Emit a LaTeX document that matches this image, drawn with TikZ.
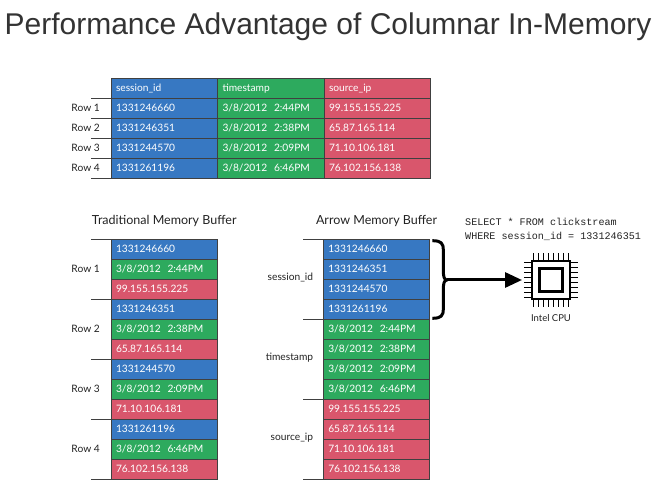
\documentclass[tikz,border=0pt]{standalone}
\usepackage{fontspec}
\setmainfont{Lato}
\newfontfamily\titlefont{Liberation Sans}
\newfontfamily\codefont{Liberation Mono}
\usetikzlibrary{positioning,calc,arrows.meta}
\definecolor{colblue}{HTML}{3778C2}
\definecolor{colgreen}{HTML}{2DAA5E}
\definecolor{colred}{HTML}{D9566C}
\definecolor{inkgray}{HTML}{222222}

\begin{document}
\begin{tikzpicture}[x=1pt,y=-1pt]
	\tikzset{cell/.style={draw=black!75,line width=0.8pt,text=white,anchor=north west,outer sep=0pt,minimum height=20pt,text width=96.5pt,inner xsep=5pt,inner ysep=0pt,align=left,text height=7.2pt,text depth=0pt,font=\fontsize{10.2}{12}\selectfont}}
	\tikzset{sid/.style={cell,fill=colblue},tstamp/.style={cell,fill=colgreen},sip/.style={cell,fill=colred}}
	\tikzset{lbl/.style={text=inkgray,inner sep=0pt,font=\fontsize{10.2}{12}\selectfont}}
	\tikzset{hdr/.style={lbl,font=\fontsize{12.5}{14}\selectfont}}
	\tikzset{rowtick/.style={draw=black!75,line width=0.8pt}}
	\tikzset{cpupin/.style={line width=1.6pt}}
	\useasboundingbox (0,0) rectangle (656,494);
	\node[anchor=base west,inner sep=0pt,text=black!80,font=\titlefont\fontsize{30}{36}\selectfont] (title) at (4.4,35) {Performance Advantage of Columnar In-Memory};
	% row table
	\node[sid] (hs) at (111,78) {session\_id};
	\node[tstamp] (ht) at (217.5,78) {timestamp};
	\node[sip] (hp) at (324,78) {source\_ip};
	\foreach \s/\t/\p [count=\i] in {1331246660/2:44PM/99.155.155.225,1331246351/2:38PM/65.87.165.114,1331244570/2:09PM/71.10.106.181,1331261196/6:46PM/76.102.156.138}{
		\node[sid] (s\i) at (111,78+20*\i) {\s};
		\node[tstamp] (t\i) at (217.5,78+20*\i) {3/8/2012~~\t};
		\node[sip] (p\i) at (324,78+20*\i) {\p};
		\node[lbl,left=11pt of s\i] (row\i) {Row \i};
		\draw[rowtick] (s\i.north west) -- ++(-20.3,0);
		% traditional buffer, one row after the other
		\node[sid] (rs\i) at (111,179.3+60*\i) {\s};
		\node[tstamp] (rt\i) at (111,199.3+60*\i) {3/8/2012~~\t};
		\node[sip] (rp\i) at (111,219.3+60*\i) {\p};
		\node[lbl,left=11pt of rt\i] (trow\i) {Row \i};
		\draw[rowtick] (rs\i.north west) -- ++(-20.3,0);
		% arrow buffer, one column after the other
		\node[sid] (as\i) at (323.3,219.3+20*\i) {\s};
		\node[tstamp] (at\i) at (323.3,299.3+20*\i) {3/8/2012~~\t};
		\node[sip] (ap\i) at (323.3,379.3+20*\i) {\p};
	}
	\draw[rowtick] (s4.south west) -- ++(-20.3,0);
	\draw[rowtick] (rp4.south west) -- ++(-20.3,0);
	\foreach \c in {as1,at1,ap1}
		\draw[rowtick] (\c.north west) -- ++(-20,0);
	\draw[rowtick] (ap4.south west) -- ++(-20,0);
	\node[lbl,anchor=east] (lsid) at ($(as2.south west)+(-10,-2)$) {session\_id};
	\node[lbl,anchor=east] (lts) at ($(at2.south west)+(-10,-2)$) {timestamp};
	\node[lbl,anchor=east] (lip) at ($(ap2.south west)+(-10,-2)$) {source\_ip};
	\node[hdr,above=12pt of rs1] (trad) {Traditional Memory Buffer};
	\node[hdr,above=12pt of as1] (arrow) {Arrow Memory Buffer};
	% query
	\node[anchor=base west,inner sep=0pt,text=inkgray,font=\codefont\fontsize{10.1}{12}\selectfont] (sql1) at (465,226) {SELECT * FROM clickstream};
	\node[anchor=base west,inner sep=0pt,text=inkgray,font=\codefont\fontsize{10.1}{12}\selectfont] (sql2) at (465,239.5) {WHERE session\_id = 1331246351};
	% cpu
	\node[draw,line width=2pt,minimum size=38pt,inner sep=0pt] (cpu) at (551,280) {};
	\node[draw,line width=2.5pt,minimum size=23pt,inner sep=0pt] (die) at (cpu) {};
	\foreach \k in {-17.5,-12.5,...,17.5}{
		\draw[cpupin] ($(cpu.north)+(\k,0)$) -- ++(0,-7);
		\draw[cpupin] ($(cpu.south)+(\k,0)$) -- ++(0,7);
		\draw[cpupin] ($(cpu.west)+(0,\k)$) -- ++(-7,0);
		\draw[cpupin] ($(cpu.east)+(0,\k)$) -- ++(7,0);
	}
	\node[lbl,font=\fontsize{9.5}{11}\selectfont,below=14pt of cpu] (cpulbl) {Intel CPU};
	% brace and arrow
	\draw[line width=3pt,line join=round] (432.3,240.7) .. controls (441,240.7) and (443.3,243) .. (443.3,250) -- (443.3,270) .. controls (443.3,276) and (444,280) .. (447,280) .. controls (444,280) and (443.3,284) .. (443.3,290) -- (443.3,309) .. controls (443.3,316) and (441,318.3) .. (432.3,318.3);
	\coordinate (tip) at (447,280);
	\draw[line width=3pt,-{Triangle[length=17pt,width=15pt]},shorten >=9pt] (tip) -- (cpu.west);
\end{tikzpicture}
\end{document}
